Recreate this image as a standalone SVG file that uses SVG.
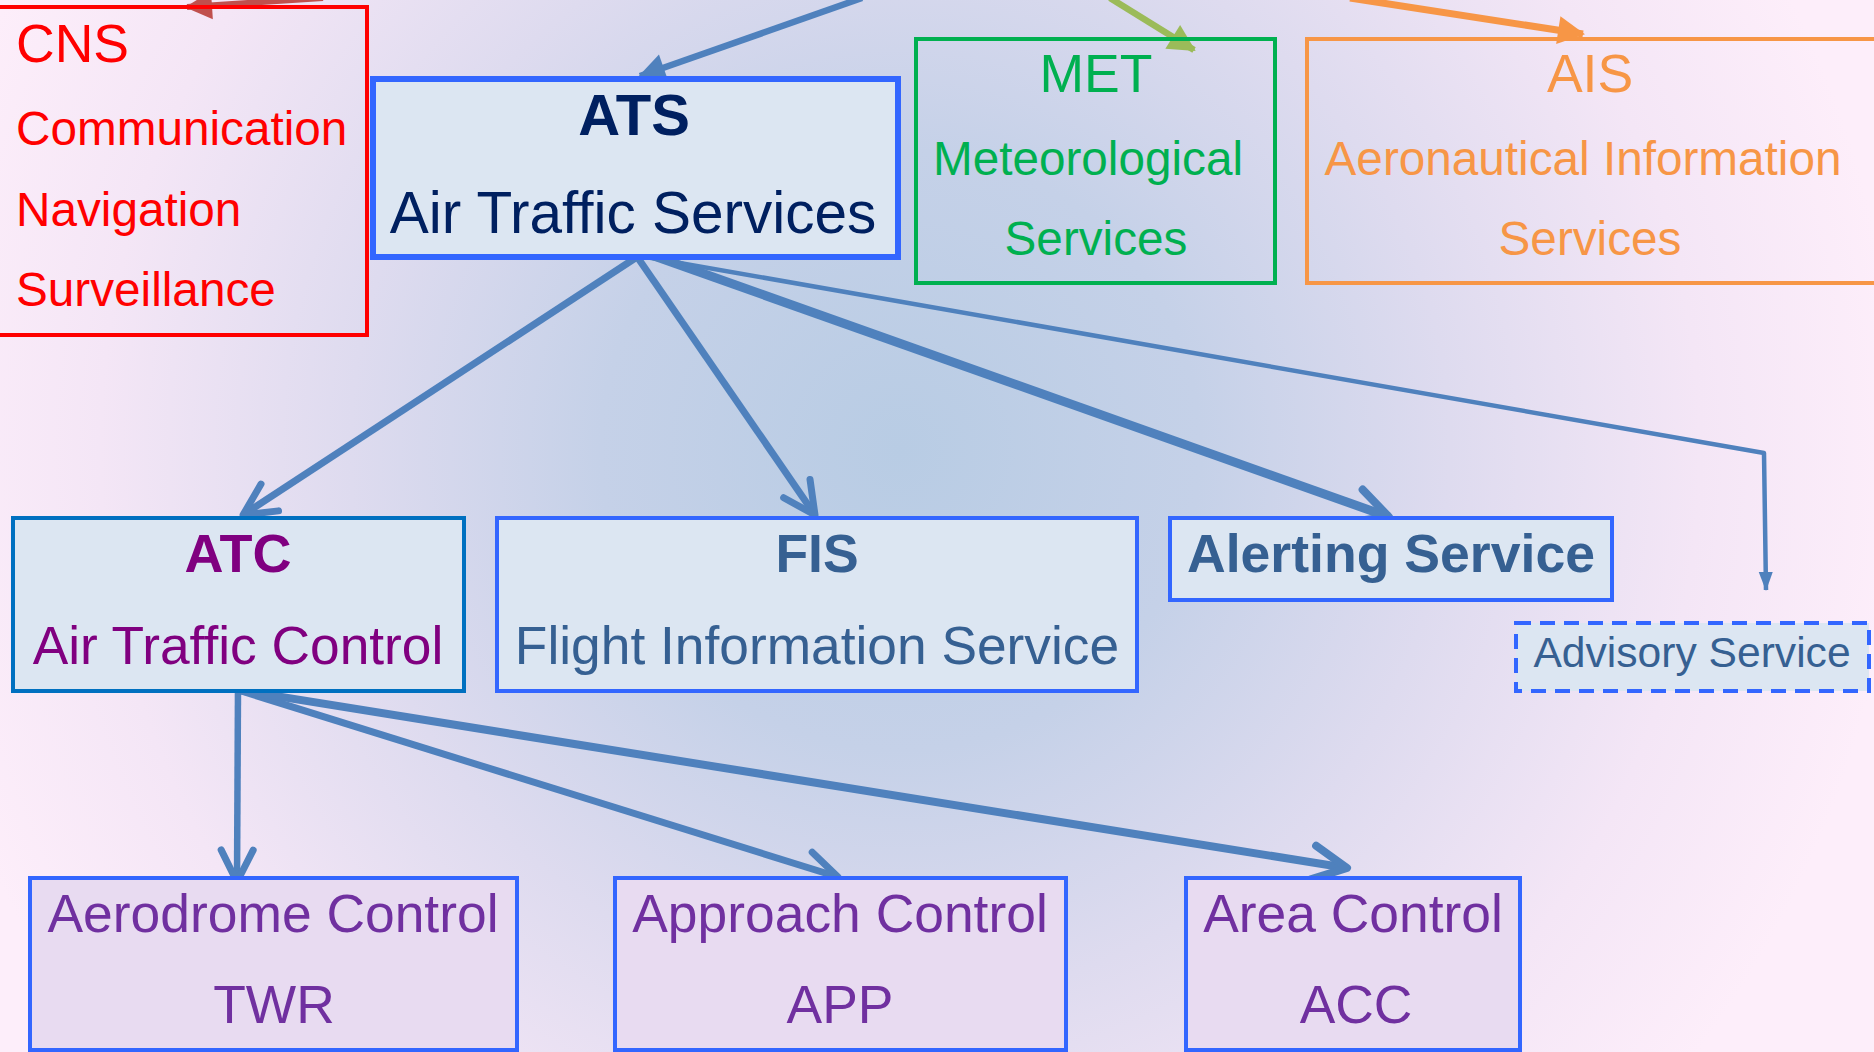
<svg xmlns="http://www.w3.org/2000/svg" width="1874" height="1052" viewBox="0 0 1874 1052">
<defs>
<radialGradient id="bg" gradientUnits="userSpaceOnUse" cx="900" cy="450" r="1000">
<stop offset="0" stop-color="#B8CCE4"/>
<stop offset="0.3" stop-color="#C5D1E8"/>
<stop offset="0.55" stop-color="#DEDBEF"/>
<stop offset="0.8" stop-color="#F4E6F6"/>
<stop offset="1" stop-color="#FDEEFA"/>
</radialGradient>
<marker id="vhead" markerUnits="userSpaceOnUse" markerWidth="80" markerHeight="80" refX="0" refY="0" orient="auto" overflow="visible">
<path d="M-32,-16 L0,0 L-32,16" fill="none" stroke="#4F81BD" stroke-width="7" stroke-linecap="round" stroke-linejoin="round"/>
</marker>
<marker id="vhead8" markerUnits="userSpaceOnUse" markerWidth="80" markerHeight="80" refX="0" refY="0" orient="auto" overflow="visible">
<path d="M-34,-17 L0,0 L-34,17" fill="none" stroke="#4F81BD" stroke-width="8" stroke-linecap="round" stroke-linejoin="round"/>
</marker>
<marker id="fblue" markerUnits="userSpaceOnUse" markerWidth="60" markerHeight="60" refX="0" refY="0" orient="auto" overflow="visible">
<path d="M-25,-14 L2,0 L-25,14 Z" fill="#4F81BD"/>
</marker>
<marker id="fred" markerUnits="userSpaceOnUse" markerWidth="60" markerHeight="60" refX="0" refY="0" orient="auto" overflow="visible">
<path d="M-25,-14 L2,0 L-25,14 Z" fill="#C0504D"/>
</marker>
<marker id="fgreen" markerUnits="userSpaceOnUse" markerWidth="60" markerHeight="60" refX="0" refY="0" orient="auto" overflow="visible">
<path d="M-25,-14 L2,0 L-25,14 Z" fill="#9BBB59"/>
</marker>
<marker id="forange" markerUnits="userSpaceOnUse" markerWidth="60" markerHeight="60" refX="0" refY="0" orient="auto" overflow="visible">
<path d="M-25,-14 L2,0 L-25,14 Z" fill="#F79646"/>
</marker>
<marker id="fsmall" markerUnits="userSpaceOnUse" markerWidth="40" markerHeight="40" refX="0" refY="0" orient="auto" overflow="visible">
<path d="M-18,-7 L1,0 L-18,7 Z" fill="#4F81BD"/>
</marker>
</defs>
<style>
text { font-family: "Liberation Sans", Arial, sans-serif; }
.mid { text-anchor: middle; }
.bold { font-weight: bold; }
.box { fill: #DCE6F2; stroke: #3366FF; stroke-width: 4; }
.sub { fill: #E8DBF1; stroke: #3366FF; stroke-width: 4; }
.conn { fill: none; stroke: #4F81BD; stroke-linecap: butt; stroke-linejoin: round; }
.red { fill: #FF0000; font-size: 47.7px; }
.green { fill: #00B050; font-size: 47.7px; }
.orange { fill: #F79646; font-size: 47.7px; }
.steel { fill: #366092; }
.purple { fill: #7030A0; font-size: 53.4px; }
</style>
<rect x="0" y="0" width="1874" height="1052" fill="url(#bg)"/>

<g id="connectors">
<line class="conn" x1="323" y1="-2" x2="187" y2="7" style="stroke:#C0504D" stroke-width="6" marker-end="url(#fred)"/>
<line class="conn" x1="862" y1="-2" x2="640" y2="76" stroke-width="6.5" marker-end="url(#fblue)"/>
<line class="conn" x1="1110" y1="-2" x2="1194" y2="50" style="stroke:#9BBB59" stroke-width="6.5" marker-end="url(#fgreen)"/>
<line class="conn" x1="1350" y1="-2" x2="1583" y2="34" style="stroke:#F79646" stroke-width="7" marker-end="url(#forange)"/>
<line class="conn" x1="637" y1="257" x2="243" y2="515" stroke-width="7" marker-end="url(#vhead)"/>
<line class="conn" x1="638" y1="258" x2="815" y2="515" stroke-width="7" marker-end="url(#vhead)"/>
<line class="conn" x1="623" y1="245" x2="1389" y2="517" stroke-width="9" marker-end="url(#vhead8)"/>
<polyline class="conn" points="640,256 1764,453 1766,590" stroke-width="4.5" marker-end="url(#fsmall)"/>
<line class="conn" x1="238" y1="688" x2="237" y2="882" stroke-width="6.5" marker-end="url(#vhead)"/>
<line class="conn" x1="238" y1="690" x2="838" y2="877" stroke-width="7" marker-end="url(#vhead)"/>
<line class="conn" x1="238" y1="690" x2="1347" y2="868" stroke-width="8" marker-end="url(#vhead8)"/>
</g>

<g id="cns">
<rect x="-5" y="7" width="372" height="328" fill="none" stroke="#FF0000" stroke-width="4"/>
<text class="red" x="16" y="62" style="font-size:53.5px">CNS</text>
<text class="red" x="16" y="145">Communication</text>
<text class="red" x="16" y="226">Navigation</text>
<text class="red" x="16" y="306">Surveillance</text>
</g>

<g id="ats">
<rect x="373" y="79" width="525" height="178" fill="#DCE6F2" stroke="#3366FF" stroke-width="6"/>
<text class="mid bold" x="634" y="135" fill="#002060" font-size="58">ATS</text>
<text class="mid" x="633" y="233" fill="#002060" font-size="58.5">Air Traffic Services</text>
</g>

<g id="met">
<rect x="916" y="39" width="359" height="244" fill="none" stroke="#00B050" stroke-width="4"/>
<text class="mid green" x="1096" y="92" style="font-size:53.5px">MET</text>
<text class="mid green" x="1088" y="175">Meteorological</text>
<text class="mid green" x="1096" y="255">Services</text>
</g>

<g id="ais">
<rect x="1307" y="39" width="580" height="244" fill="none" stroke="#F79646" stroke-width="4"/>
<text class="mid orange" x="1590" y="92" style="font-size:53.5px">AIS</text>
<text class="mid orange" x="1583" y="175">Aeronautical Information</text>
<text class="mid orange" x="1590" y="255">Services</text>
</g>

<g id="atc">
<rect class="box" x="13" y="518" width="451" height="173" style="stroke:#0070C0"/>
<text class="mid bold" x="238" y="572" fill="#800080" font-size="54">ATC</text>
<text class="mid" x="238" y="664" fill="#800080" font-size="53.3">Air Traffic Control</text>
</g>

<g id="fis">
<rect class="box" x="497" y="518" width="640" height="173"/>
<text class="mid bold steel" x="817" y="572" font-size="53.5">FIS</text>
<text class="mid steel" x="817" y="664" font-size="53.3">Flight Information Service</text>
</g>

<g id="alerting">
<rect class="box" x="1170" y="518" width="442" height="82"/>
<text class="mid bold steel" x="1391" y="572" font-size="53.6">Alerting Service</text>
</g>

<g id="advisory">
<rect class="box" x="1516" y="623" width="353" height="68" stroke-dasharray="15 9"/>
<text class="mid steel" x="1692" y="667" font-size="42.6">Advisory Service</text>
</g>

<g id="aerodrome">
<rect class="sub" x="30" y="878" width="487" height="172"/>
<text class="mid purple" x="273" y="932">Aerodrome Control</text>
<text class="mid purple" x="274" y="1023">TWR</text>
</g>

<g id="approach">
<rect class="sub" x="615" y="878" width="451" height="172"/>
<text class="mid purple" x="840" y="932">Approach Control</text>
<text class="mid purple" x="840" y="1023">APP</text>
</g>

<g id="area">
<rect class="sub" x="1186" y="878" width="334" height="172"/>
<text class="mid purple" x="1353" y="932">Area Control</text>
<text class="mid purple" x="1356" y="1023">ACC</text>
</g>
</svg>
